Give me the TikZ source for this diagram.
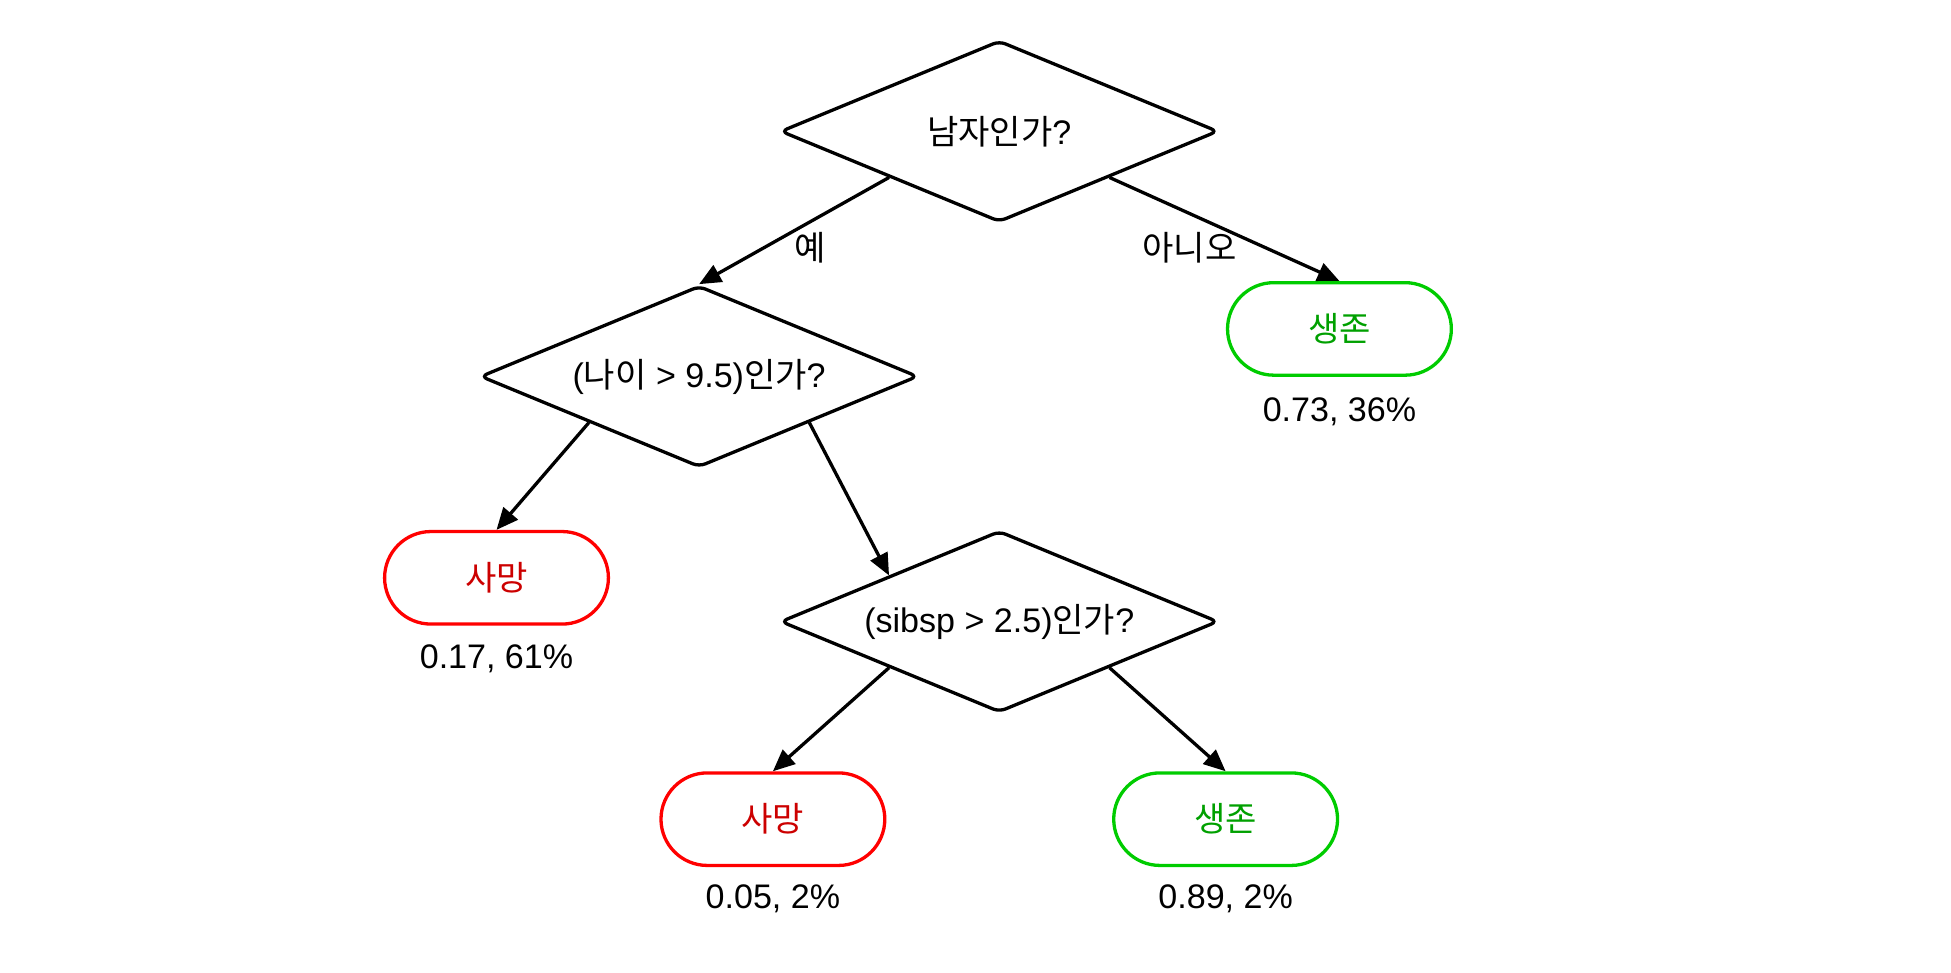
\documentclass[tikz,border=0pt]{standalone}
\usepackage{fontspec}
\setmainfont{Liberation Sans}
\newfontfamily\kofont{Noto Sans CJK KR}
\usetikzlibrary{arrows.meta,positioning,shapes.geometric}
\definecolor{diered}{RGB}{255,0,0}
\definecolor{dietext}{RGB}{204,0,0}
\definecolor{liveline}{RGB}{0,204,0}
\definecolor{livetext}{RGB}{0,160,0}

\begin{document}
\begin{tikzpicture}[
  x=0.02cm, y=-0.02cm,
  test/.style={diamond, draw=black, line width=1.5pt, rounded corners=3pt, aspect=2.41, minimum width=7.0cm, minimum height=2.9cm, inner sep=0pt, font=\fontsize{15.5}{18}\selectfont},
  leafdie/.style={rectangle, draw=diered, text=dietext, line width=1.5pt, rounded corners=0.74cm, minimum width=3.58cm, minimum height=1.48cm, font=\kofont\fontsize{15.5}{18}\selectfont},
  leaflive/.style={leafdie, draw=liveline, text=livetext},
  stat/.style={font=\fontsize{15.5}{18}\selectfont},
  arr/.style={-{Triangle[length=3.5mm,width=3mm]}, line width=1.5pt},
]
\useasboundingbox (4,0) rectangle (1564,778);

% Tests
\node[test] (q1) at (803,105) {{\kofont 남자인가}?};
\node[test] (q2) at (563,301) {({\kofont 나이} > 9.5){\kofont 인가}?};
\node[test] (q3) at (803,497) {(sibsp > 2.5){\kofont 인가}?};

% Leaves
\node[leaflive] (s1) at (1075,263) {생존};
\node[leafdie] (d1) at (401,462) {사망};
\node[leafdie] (d2) at (622,655) {사망};
\node[leaflive] (s2) at (984,655) {생존};

\node[stat] (p1) at (1075,329) {0.73, 36\%};
\node[stat] (p2) at (401,527) {0.17, 61\%};
\node[stat] (p3) at (622,719) {0.05, 2\%};
\node[stat] (p4) at (984,719) {0.89, 2\%};

% Edges
\draw[arr] (q1.south west) -- (q2.north);
\draw[arr] (q1.south east) -- (s1.north);
\draw[arr] (q2.south west) -- (d1.north);
\draw[arr] (q2.south east) -- (q3.north west);
\draw[arr] (q3.south west) -- (d2.north);
\draw[arr] (q3.south east) -- (s2.north);

\node[font=\kofont\fontsize{15.5}{18}\selectfont] (yes) at (652,198) {예};
\node[font=\kofont\fontsize{15.5}{18}\selectfont] (no) at (955,198) {아니오};
\end{tikzpicture}
\end{document}
